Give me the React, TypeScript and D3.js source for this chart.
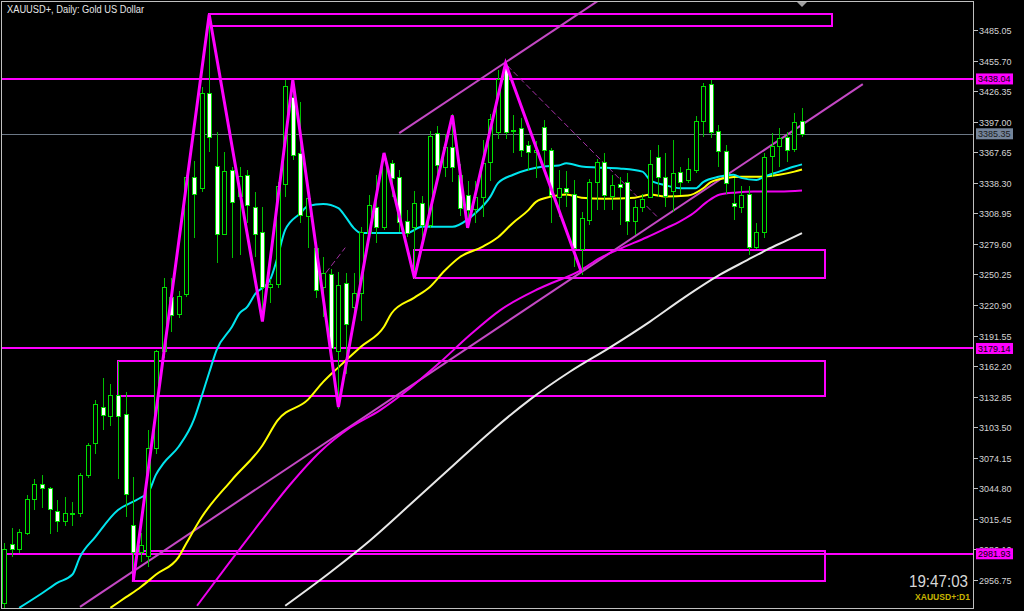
import React from 'react';
import * as d3 from 'd3';

const W = 1024;
const H = 611;

// OHLC per daily bar (index 0 .. 105)
const opens = [2935,2991,2987,3002,3035,3049,3045,3023,3013,3020,3021,3058,3088,3123,3114,3134,3116,3010,2984,2980,3084,3177,3229,3212,3231,3344,3333,3425,3354,3289,3351,3326,3346,3315,3291,3238,3241,3337,3421,3367,3306,3276,3238,3251,3177,3242,3219,3232,3290,3315,3296,3357,3344,3302,3296,3319,3298,3386,3353,3373,3346,3327,3313,3325,3358,3387,3450,3388,3391,3375,3368,3392,3370,3325,3333,3328,3275,3303,3339,3358,3326,3337,3339,3302,3315,3325,3363,3344,3330,3349,3341,3351,3398,3433,3388,3369,3319,3315,3328,3277,3291,3364,3374,3382,3371,3398];
const highs = [2992,3007,3006,3038,3054,3058,3046,3034,3036,3032,3060,3088,3130,3151,3145,3167,3137,3056,3002,3101,3178,3247,3247,3234,3346,3359,3430,3500,3387,3368,3353,3353,3351,3329,3315,3246,3339,3437,3437,3416,3330,3281,3267,3255,3253,3252,3252,3296,3327,3346,3367,3360,3351,3312,3330,3326,3388,3393,3385,3404,3356,3340,3340,3379,3404,3447,3453,3403,3401,3378,3378,3399,3372,3351,3350,3341,3310,3342,3361,3367,3346,3344,3348,3322,3328,3370,3375,3367,3379,3353,3362,3402,3434,3437,3394,3375,3343,3335,3335,3300,3367,3386,3391,3387,3405,3410];
const lows = [2930,2979,2983,3000,3024,3026,3001,3003,3009,3009,3017,3055,3078,3101,3105,3054,3017,2955,2974,2969,3078,3170,3195,3208,3229,3285,3329,3368,3261,3288,3266,3269,3300,3267,3206,3223,3237,3325,3360,3300,3276,3228,3209,3172,3121,3155,3213,3206,3285,3280,3293,3325,3291,3286,3246,3280,3295,3341,3344,3339,3306,3295,3300,3305,3340,3380,3380,3367,3363,3350,3343,3350,3300,3305,3315,3257,3250,3298,3312,3312,3312,3298,3288,3288,3310,3324,3325,3315,3310,3327,3338,3348,3382,3381,3353,3328,3303,3309,3269,3275,3285,3344,3353,3358,3368,3382];
const closes = [2987,2987,3003,3035,3049,3045,3025,3013,3021,3021,3058,3086,3126,3115,3134,3114,3039,2984,2990,3084,3177,3238,3211,3230,3344,3328,3425,3382,3289,3350,3320,3345,3317,3289,3238,3241,3335,3431,3365,3307,3324,3235,3252,3180,3240,3203,3232,3291,3317,3296,3362,3343,3301,3290,3319,3298,3383,3355,3373,3353,3314,3312,3325,3357,3400,3438,3387,3389,3370,3368,3370,3370,3327,3333,3329,3276,3304,3339,3358,3327,3336,3334,3302,3315,3323,3356,3344,3326,3348,3339,3352,3398,3431,3387,3369,3338,3316,3327,3277,3291,3363,3374,3381,3370,3397,3385.35];

// Moving averages: [bar index, price]
const maCyan = [[2,2930],[5,2944],[7,2954],[9,2962],[10,2979],[12,2998],[15,3024],[17,3032],[18,3036],[19,3041],[20,3058],[21,3069],[23,3085],[25,3111],[26,3133],[27,3156],[28,3178],[30,3200],[31,3213],[32,3219],[33,3231],[35,3245],[36,3267],[37,3293],[39,3309],[40,3316],[42,3318],[44,3314],[45,3305],[46,3295],[47,3290],[49,3290],[51,3290],[53,3290],[55,3296],[57,3296],[59,3296],[61,3303],[62,3309],[64,3325],[65,3338],[67,3346],[69,3351],[71,3354],[73,3355],[74,3357],[76,3354],[78,3353],[81,3352],[84,3349],[85,3341],[87,3336],[89,3333],[91,3333],[92,3339],[94,3344],[96,3346],[97,3343],[99,3341],[100,3344],[102,3349],[104,3354],[105,3356]];
const maYellow = [[14,2930],[16,2940],[18,2950],[20,2962],[23,2979],[24,2992],[26,3017],[30,3053],[34,3086],[36,3110],[40,3130],[42,3147],[44,3161],[47,3181],[50,3200],[51,3213],[54,3228],[56,3238],[58,3254],[60,3267],[63,3277],[65,3286],[67,3300],[69,3312],[70,3320],[72,3325],[74,3327],[76,3324],[79,3323],[83,3324],[85,3327],[87,3325],[90,3326],[92,3333],[93,3339],[95,3343],[97,3344],[99,3344],[102,3346],[104,3349],[105,3351]];
const maMagenta = [[25.4,2932],[29.7,2974],[33.7,3012],[37.6,3048],[41.6,3080],[45.5,3103],[49.5,3120],[53.4,3141],[57.4,3166],[61.3,3192],[65.3,3216],[70.5,3237],[75.8,3254],[78.4,3266],[81.4,3276],[84.6,3286],[87.2,3295],[88.9,3301],[90.7,3309],[92.5,3320],[94.2,3327],[96.4,3329],[98.6,3330],[102.1,3330],[105,3331]];
const maWhite = [[37,2932],[42.9,2964],[48.2,2995],[53.4,3029],[58.7,3064],[64,3099],[69.2,3130],[74.5,3157],[79.7,3180],[85,3205],[89.3,3227],[94.2,3250],[97.8,3264],[100.4,3274],[103,3283],[105,3290]];

// ZigZag vertices: [bar index, price]
const zigzag = [[17,2955],[27,3500],[34,3205],[38,3437],[44,3123],[50,3367],[54,3247],[59,3403],[61,3295],[66,3453],[76,3252]];

// Rectangles: [start index, end index, top price, bottom price]
const boxes = [[27,109,3500.4,3488.9],[54,108,3273.7,3246.8],[15,108,3167.1,3133.5],[17,108,2985.0,2956.2]];

// Trend lines: [[i1,p1],[i2,p2]]
const trendLower = [[10,2931],[113,3433]];
const trendUpper = [[52,3386],[80,3522]];
const dashedLines = [[[66.2,3451],[85.9,3306]],[[40.9,3238],[44.9,3276]]];

const levelPrices = [3438.04, 3179.14, 2981.93];
const levelLabels = ['3438.04', '3179.14', '2981.93'];
const bidPrice = 3385.35;
const bidLabel = '3385.35';

const tickLabels = ['3485.05','3455.70','3426.35','3397.00','3367.65','3338.30','3308.95','3279.60','3250.25','3220.90','3191.55','3162.20','3132.85','3103.50','3074.15','3044.80','3015.45','2986.10','2956.75'];

const titleText = 'XAUUSD+, Daily:  Gold US Dollar';
const clockText = '19:47:03';
const symText = 'XAUUSD+:D1';

const FONT = '"Liberation Sans", Arial, sans-serif';

export default function App() {
  const x = d3.scaleLinear().domain([0, 105]).range([4, 802]);
  const y = d3.scaleLinear().domain([2956.75, 3485.05]).range([580, 30]);

  const line = d3.line<number[]>().x(d => x(d[0])).y(d => y(d[1])).curve(d3.curveMonotoneX);
  const straight = d3.line<number[]>().x(d => x(d[0])).y(d => y(d[1]));

  const plotL = 2, plotT = 2, plotR = 974, plotB = 609;

  return (
    <svg width={W} height={H} style={{ position: 'absolute', left: 0, top: 0, background: '#000' }}>
      <defs>
        <clipPath id="plot">
          <rect x={plotL} y={plotT} width={plotR - plotL} height={plotB - plotT} />
        </clipPath>
      </defs>
      <rect x={0} y={0} width={W} height={H} fill="#000" />
      <g clipPath="url(#plot)">
        {boxes.map((b, i) => (
          <rect key={'b' + i} x={Math.round(x(b[0]))} y={Math.round(y(b[2]))}
            width={Math.round(x(b[1])) - Math.round(x(b[0]))} height={Math.round(y(b[3])) - Math.round(y(b[2]))}
            fill="none" stroke="#ff00ff" strokeWidth={2} />
        ))}
        {levelPrices.map((p, i) => (
          <line key={'l' + i} x1={plotL} x2={plotR} y1={Math.round(y(p))} y2={Math.round(y(p))} stroke="#ff00ff" strokeWidth={2} />
        ))}
        <line x1={plotL} x2={plotR} y1={Math.round(y(bidPrice)) + 0.5} y2={Math.round(y(bidPrice)) + 0.5} stroke="#6c7886" strokeWidth={1} />
        <path d={straight(trendLower) || ''} fill="none" stroke="#c448c4" strokeWidth={2} />
        <path d={straight(trendUpper) || ''} fill="none" stroke="#c448c4" strokeWidth={2} />
        {dashedLines.map((dl, i) => (
          <path key={'d' + i} d={straight(dl) || ''} fill="none" stroke="#a530a5" strokeWidth={1} strokeDasharray="6,3" />
        ))}
        <path d={line(maWhite) || ''} fill="none" stroke="#e8e8e8" strokeWidth={2} />
        <path d={line(maMagenta) || ''} fill="none" stroke="#ee00ee" strokeWidth={2} />
        <path d={line(maYellow) || ''} fill="none" stroke="#ffff00" strokeWidth={2} />
        <path d={line(maCyan) || ''} fill="none" stroke="#00e5ee" strokeWidth={2} />
        {opens.map((o, i) => {
          const c = closes[i];
          const cx = Math.round(x(i));
          const top = Math.round(y(Math.max(o, c)));
          const bot = Math.round(y(Math.min(o, c)));
          const bear = c < o;
          return (
            <g key={'c' + i}>
              <line x1={cx + 0.5} x2={cx + 0.5} y1={Math.round(y(highs[i]))} y2={Math.round(y(lows[i]))} stroke="#00c000" strokeWidth={1} />
              <rect x={cx - 1.5} y={top + 0.5} width={4} height={Math.max(bot - top, 1)} fill={bear ? '#ffffff' : '#000000'} stroke="#00e000" strokeWidth={1} />
            </g>
          );
        })}
        <path d={straight(zigzag) || ''} fill="none" stroke="#ff00ff" strokeWidth={3} strokeLinejoin="miter" />
      </g>
      <rect x={plotL - 0.5} y={plotT - 0.5} width={plotR - plotL} height={plotB - plotT} fill="none" stroke="#c0c0c0" strokeWidth={1} />
      <path d="M797,2 L807,2 L802,7 Z" fill="#a0a0a0" />
      {tickLabels.map((t, i) => {
        const ty = Math.round(y(+t)) + 0.5;
        return (
          <g key={'t' + i}>
            <line x1={plotR} x2={plotR + 4} y1={ty} y2={ty} stroke="#c0c0c0" strokeWidth={1} />
            <text x={plotR + 5} y={ty + 3.3} fill="#d4d4d4" fontSize={9} fontFamily={FONT}>{t}</text>
          </g>
        );
      })}
      {levelPrices.map((p, i) => {
        const ly = y(p);
        return (
          <g key={'lb' + i}>
            <rect x={976} y={ly - 5.5} width={37} height={11} fill="#ff00ff" />
            <text x={978} y={ly + 3.3} fill="#000" fontSize={9} fontFamily={FONT}>{levelLabels[i]}</text>
          </g>
        );
      })}
      <g>
        <rect x={976} y={y(bidPrice) - 5.5} width={37} height={11} fill="#74849a" />
        <text x={978} y={y(bidPrice) + 3.3} fill="#1a1a1a" fontSize={9} fontFamily={FONT}>{bidLabel}</text>
      </g>
      <text x={7} y={13} fill="#e6e6e6" fontSize={10} fontFamily={FONT} textLength={137} lengthAdjust="spacingAndGlyphs">{titleText}</text>
      <text x={968} y={587} textAnchor="end" fill="#d8d8d8" fontSize={17} fontFamily={FONT} textLength={59} lengthAdjust="spacingAndGlyphs">{clockText}</text>
      <text x={970} y={600} textAnchor="end" fill="#c8b400" fontSize={9.5} fontWeight="bold" fontFamily={FONT} textLength={55} lengthAdjust="spacingAndGlyphs">{symText}</text>
    </svg>
  );
}
